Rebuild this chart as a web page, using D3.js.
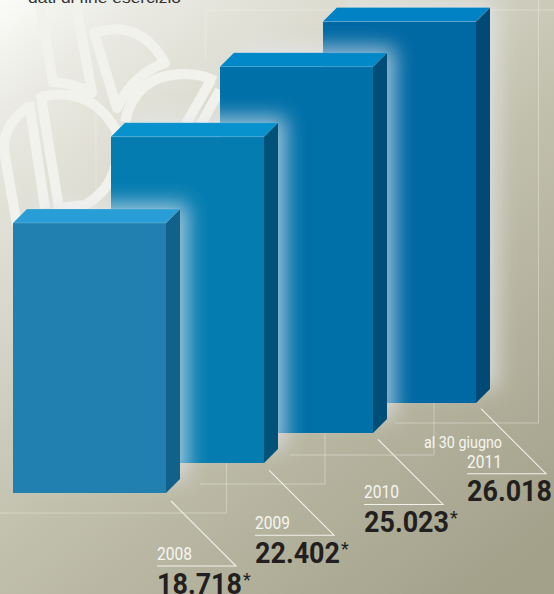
<!DOCTYPE html>
<html>
<head>
<meta charset="utf-8">
<style>html,body{margin:0;padding:0;overflow:hidden;background:#fff}svg{display:block}</style>
<script src="https://cdnjs.cloudflare.com/ajax/libs/d3/7.8.5/d3.min.js"></script>
</head>
<body>
<svg id="chart" width="554" height="594"></svg>
<script>
// Series: figures per year, with the footnote mark where the source carries one
const years = ["2008", "2009", "2010", "2011"];
const values = [18718, 22402, 25023, 26018];
const valueLabels = ["18.718", "22.402", "25.023", "26.018"];
const footnotes = ["*", "*", "*", ""];
const frontColors = ["#2280b0", "#047cb0", "#0070a8", "#0068a3"];
const topColors = ["#299dd5", "#0792cd", "#0088c8", "#0082c4"];
const sideColors = ["#11618a", "#005279", "#004e78", "#004a75"];

const W = 554, H = 594, barW = 153, depth = 14;
const svg = d3.select("#chart");
const defs = svg.append("defs");

// The bars stand on a rising staircase, so both left edge and foot are per-year scales
const xLeft = d3.scaleOrdinal(years, [13, 111, 220, 323]);
const yFoot = d3.scalePoint(years, [493, 403]);
const yRule = d3.scalePoint(years, [566, 473.7]);
const barH = d3.scaleLinear([1040, 26018], [0, 381.5]);

const bg = defs.append("linearGradient").attr("id", "bg")
  .attr("gradientUnits", "userSpaceOnUse")
  .attr("x1", 0).attr("y1", 0).attr("x2", 480).attr("y2", 594);
[[0, "#fbfbf8"], [0.12, "#eaeae3"], [0.27, "#dcdcd1"], [0.55, "#c2c1ae"], [1, "#a3a18a"]]
  .forEach(([o, c]) => bg.append("stop").attr("offset", o).attr("stop-color", c));

defs.append("filter").attr("id", "halo")
  .attr("x", "-30%").attr("y", "-30%").attr("width", "160%").attr("height", "160%")
  .append("feGaussianBlur").attr("stdDeviation", 10);

svg.append("rect").attr("width", W).attr("height", H).attr("fill", "url(#bg)");

// Faint emblem behind the bars
const emblem = svg.append("g").attr("fill", "none").attr("stroke", "#f2f2ed")
  .attr("stroke-width", 10).attr("stroke-linejoin", "round");
[
  "M40,4 L53,82 Q75,83 92,93 L76,4 Z",
  "M94,33 Q140,18 165,63 Q133,74 117,108 Z",
  "M125,122 Q135,74 185,74 Q202,74 215,81",
  "M211,80 L186,124",
  "M220,90 L201,124",
  "M28,107 Q3,125 4,150 L17,225",
  "M29,102 L45,208",
  "M41,97 Q90,85 116,130 Q125,182 85,205 L59,208 Z"
].forEach(d => emblem.append("path").attr("d", d));

// Thin guide lines stepping down with the bars
svg.append("path")
  .attr("d", "M0,513H226.5V463M200,484H325V433M290,455H434V403M395,423H538.5V0M205.5,10H554M205.5,10V60M96,115V210")
  .attr("fill", "none").attr("stroke", "#eeeee6").attr("stroke-opacity", 0.42).attr("stroke-width", 1);

const data = years.map((y, i) => ({
  year: y, value: values[i], label: valueLabels[i], note: footnotes[i],
  front: frontColors[i], top: topColors[i], side: sideColors[i]
}));

// Painted back to front; each bar throws a soft glow up and to the right over what lies behind it
data.slice().reverse().forEach(d => {
  const x = xLeft(d.year), foot = yFoot(d.year), h = barH(d.value), y = foot - h;
  const g = svg.append("g").attr("class", "bar");
  g.append("rect")
    .attr("x", x + 22).attr("y", y - depth - 6)
    .attr("width", barW + depth - 22 + 8).attr("height", h + 6)
    .attr("fill", "#e8e8ee").attr("opacity", 0.68).attr("filter", "url(#halo)");
  g.append("rect").attr("x", x).attr("y", y).attr("width", barW).attr("height", h).attr("fill", d.front);
  g.append("path").attr("fill", d.top)
    .attr("d", d3.line()([[x, y], [x + depth, y - depth], [x + barW + depth, y - depth], [x + barW, y]]));
  g.append("path").attr("fill", d.side)
    .attr("d", d3.line()([[x + barW, y], [x + barW + depth, y - depth], [x + barW + depth, foot - depth], [x + barW, foot]]));
  g.append("path").attr("fill", "none").attr("stroke", "#fff").attr("stroke-opacity", 0.16).attr("stroke-width", 1)
    .attr("d", d3.line()([[x, y], [x + barW, y], [x + barW + depth, y - depth], [x + depth, y - depth]]));
});

const narrow = "'Roboto','Liberation Sans',sans-serif";

// Year captions, rules and figures below each bar
data.forEach(d => {
  const x = xLeft(d.year) + 144, ry = yRule(d.year);
  const g = svg.append("g").attr("class", "label");
  g.append("path")
    .attr("d", `M${x + 14},${ry - 65}L${x + 79},${ry}H${x}`)
    .attr("fill", "none").attr("stroke", "#f1f1ea").attr("stroke-width", 1.1);
  g.append("text").attr("x", x).attr("y", ry - 6)
    .attr("font-family", narrow).attr("font-size", 19).attr("fill", "#f6f6f0")
    .attr("textLength", 35).attr("lengthAdjust", "spacingAndGlyphs").text(d.year);
  g.append("text").attr("x", x).attr("y", ry + 27.5)
    .attr("font-family", narrow).attr("font-weight", 700).attr("font-size", 30).attr("fill", "#231f20")
    .attr("textLength", 85).attr("lengthAdjust", "spacingAndGlyphs").text(d.label);
  if (d.note) {
    g.append("text").attr("x", x + 86).attr("y", ry + 20)
      .attr("font-family", narrow).attr("font-size", 18).attr("fill", "#231f20").text(d.note);
  }
});

svg.append("text").attr("x", 424).attr("y", 448)
  .attr("font-family", narrow).attr("font-size", 17).attr("fill", "#f6f6f0")
  .attr("textLength", 78).attr("lengthAdjust", "spacingAndGlyphs").text("al 30 giugno");

svg.append("text").attr("x", 28).attr("y", 2.5)
  .attr("font-family", "'Liberation Sans',sans-serif").attr("font-size", 15).attr("fill", "#333")
  .attr("textLength", 153).attr("lengthAdjust", "spacingAndGlyphs").text("dati di fine esercizio");
</script>
</body>
</html>
